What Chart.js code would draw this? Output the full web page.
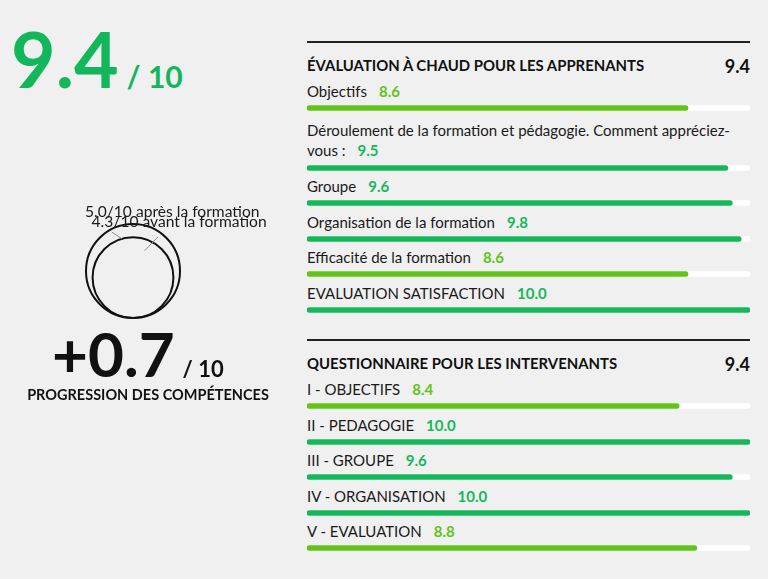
<!DOCTYPE html>
<html lang="fr">
<head>
<meta charset="utf-8">
<title>Évaluation de la formation</title>
<script src="https://cdn.jsdelivr.net/npm/chart.js@4.4.1/dist/chart.umd.min.js"></script>
<style>
  html, body { margin: 0; padding: 0; }
  body { width: 768px; height: 579px; background: #f0f0f0; font-family: Lato, "Open Sans", sans-serif; color: #1a1a1a; position: relative; overflow: hidden; }
  .score { position: absolute; left: 11px; top: 19px; font-size: 77px; line-height: 78px; font-weight: 700; color: #13b75b; white-space: nowrap; }
  .score small { font-size: 30px; margin-left: 8px; }
  #circles { position: absolute; left: 0; top: 195px; }
  .progress { position: absolute; left: 52px; top: 322px; font-size: 62px; line-height: 62px; font-weight: 700; color: #111; white-space: nowrap; }
  .progress small { font-size: 22px; margin-left: 8px; }
  .progress-title { position: absolute; left: 0; width: 296px; top: 388px; text-align: center; font-size: 14.5px; line-height: 14px; font-weight: 700; color: #111; }
  .section { position: absolute; left: 307px; width: 443px; border-top: 2px solid #222; }
  .section h2 { margin: 10px 0 6px; height: 22px; display: flex; justify-content: space-between; align-items: baseline; font-size: 14.9px; line-height: 22px; font-weight: 700; color: #111; }
  .section h2 span { font-size: 18px; position: relative; top: 2px; }
  .row { margin-bottom: 4.6px; }
  .row.tall { padding-top: 3px; }
  .row.tall .label { line-height: 20.5px; }
  .row .label { font-size: 15px; line-height: 20px; color: #1a1a1a; }
  .row .value { font-weight: 700; margin-left: 12px; }
  .row canvas { display: block; margin-top: 3px; width: 443px; height: 8px; }
</style>
</head>
<body>

<div class="score" id="overall"></div>
<canvas id="circles" width="300" height="128"></canvas>
<div class="progress" id="progress"></div>
<div class="progress-title">PROGRESSION DES COMPÉTENCES</div>

<div class="section" id="section1" style="top: 41px;"></div>
<div class="section" id="section2" style="top: 339px;"></div>

<script>
// Scores
var scoreMax = 10;
var overallScore = 9.4;

var competenceLabels = ["avant la formation", "après la formation"];
var competenceScores = [4.3, 5.0];

var sectionTitles = ["ÉVALUATION À CHAUD POUR LES APPRENANTS", "QUESTIONNAIRE POUR LES INTERVENANTS"];
var sectionAverages = [9.4, 9.4];

var chaudLabels = [
    "Objectifs",
    "Déroulement de la formation et pédagogie. Comment appréciez-vous :",
    "Groupe",
    "Organisation de la formation",
    "Efficacité de la formation",
    "EVALUATION SATISFACTION"
];
var chaudScores = [8.6, 9.5, 9.6, 9.8, 8.6, 10.0];

var intervenantsLabels = ["I - OBJECTIFS", "II - PEDAGOGIE", "III - GROUPE", "IV - ORGANISATION", "V - EVALUATION"];
var intervenantsScores = [8.4, 10.0, 9.6, 10.0, 8.8];

var darkGreen = "#14b85a";
var lightGreen = "#62c419";

function scoreColor(v) {
    return v >= 9 ? darkGreen : lightGreen;
}

// Big numbers on the left
document.getElementById("overall").innerHTML = overallScore.toFixed(1) + "<small>/ " + scoreMax + "</small>";
var gain = competenceScores[1] - competenceScores[0];
document.getElementById("progress").innerHTML = "+" + gain.toFixed(1) + "<small>/ " + scoreMax + "</small>";

// One small horizontal bar chart per question
function drawBar(canvas, label, value) {
    new Chart(canvas.getContext("2d"), {
        type: 'bar',
        data: {
            labels: [label],
            datasets: [
                {
                    data: [value],
                    backgroundColor: scoreColor(value),
                    borderRadius: 3,
                    borderSkipped: false,
                    barThickness: 5,
                    grouped: false
                },
                {
                    data: [scoreMax],
                    backgroundColor: "#ffffff",
                    borderRadius: 3,
                    borderSkipped: false,
                    barThickness: 5,
                    grouped: false
                }
            ]
        },
        options: {
            indexAxis: 'y',
            responsive: false,
            animation: false,
            events: [],
            layout: { padding: 0 },
            plugins: { legend: { display: false }, tooltip: { enabled: false } },
            scales: {
                x: { display: false, min: 0, max: scoreMax },
                y: { display: false }
            }
        }
    });
}

function buildSection(id, title, average, labels, scores) {
    var el = document.getElementById(id);
    var h = document.createElement("h2");
    h.innerHTML = title + "<span>" + average.toFixed(1) + "</span>";
    el.appendChild(h);
    for (var i = 0; i < labels.length; i++) {
        var row = document.createElement("div");
        row.className = "row";
        var lab = document.createElement("div");
        lab.className = "label";
        lab.innerHTML = labels[i] + '<span class="value" style="color:' + scoreColor(scores[i]) + '">' + scores[i].toFixed(1) + "</span>";
        row.appendChild(lab);
        var cv = document.createElement("canvas");
        cv.width = 443;
        cv.height = 8;
        row.appendChild(cv);
        el.appendChild(row);
        // wrapped labels get a little more room above
        if (lab.offsetHeight > 25) row.className += " tall";
        drawBar(cv, labels[i], scores[i]);
    }
}

buildSection("section1", sectionTitles[0], sectionAverages[0], chaudLabels, chaudScores);
buildSection("section2", sectionTitles[1], sectionAverages[1], intervenantsLabels, intervenantsScores);

// Before / after circles: radius follows the y scale, so both circles sit on y = 0
var circleLabels = {
    id: 'circleLabels',
    afterDatasetsDraw: function(chart) {
        var ctx = chart.ctx;
        var y = chart.scales.y;
        var x = chart.scales.x;
        var cx = x.getPixelForValue(0);
        var bigTop = y.getPixelForValue(2 * Math.max.apply(null, competenceScores));
        var order = competenceScores.map(function(v, i) { return i; })
            .sort(function(a, b) { return competenceScores[b] - competenceScores[a]; });

        ctx.save();
        // leader ticks
        ctx.strokeStyle = "#8a8a8a";
        ctx.lineWidth = 1;
        var small = order[order.length - 1], big = order[0];
        var rs = y.getPixelForValue(0) - y.getPixelForValue(competenceScores[small]);
        var cys = y.getPixelForValue(competenceScores[small]);
        var a = -106 * Math.PI / 180;
        var px = cx + rs * Math.cos(a), py = cys + rs * Math.sin(a);
        ctx.beginPath();
        ctx.moveTo(px, py);
        ctx.lineTo(px - 10, py - 6.6);
        ctx.stroke();
        var rb = y.getPixelForValue(0) - y.getPixelForValue(competenceScores[big]);
        var cyb = y.getPixelForValue(competenceScores[big]);
        ctx.beginPath();
        ctx.moveTo(cx + 0.5 * rb * Math.cos(-1.05), cyb + 0.5 * rb * Math.sin(-1.05));
        ctx.lineTo(cx + 0.9 * rb * Math.cos(-0.94), cyb + 0.9 * rb * Math.sin(-0.94));
        ctx.stroke();

        // labels
        ctx.fillStyle = "#1a1a1a";
        ctx.font = "15.6px Lato";
        ctx.textBaseline = "alphabetic";
        order.forEach(function(i, k) {
            var v = competenceScores[i];
            var r = y.getPixelForValue(0) - y.getPixelForValue(v);
            ctx.fillText(v.toFixed(1) + "/" + scoreMax + " " + competenceLabels[i], cx - r - 1, bigTop - 7 + k * 10);
        });
        ctx.restore();
    }
};

new Chart(document.getElementById("circles").getContext("2d"), {
    type: 'scatter',
    data: {
        datasets: [{
            data: competenceScores.map(function(v) { return { x: 0, y: v }; }),
            pointRadius: function(c) {
                if (!c.raw) return 0;
                var s = c.chart.scales.y;
                return s.getPixelForValue(0) - s.getPixelForValue(c.raw.y);
            },
            pointBackgroundColor: "rgba(0,0,0,0)",
            pointBorderColor: "#111",
            pointBorderWidth: 2,
            clip: false
        }]
    },
    options: {
        responsive: false,
        animation: false,
        events: [],
        layout: { padding: { top: 29, bottom: 5, left: 0, right: 34 } },
        plugins: { legend: { display: false }, tooltip: { enabled: false } },
        scales: {
            x: { display: false, min: -1, max: 1 },
            y: { display: false, min: 0, max: 2 * Math.max.apply(null, competenceScores) }
        }
    },
    plugins: [circleLabels]
});
</script>
</body>
</html>
